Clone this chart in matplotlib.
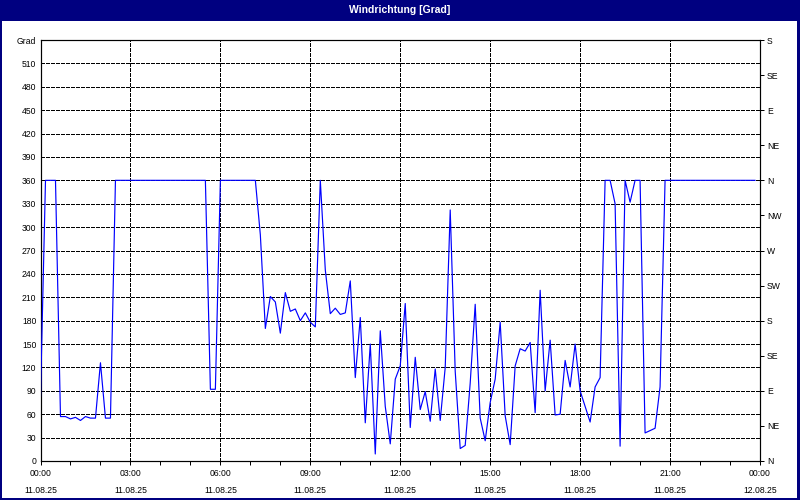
import numpy as np
import matplotlib
matplotlib.use("Agg")
import matplotlib.pyplot as plt
from matplotlib.patches import Rectangle


# Windrichtung 11.08.25, 10-Minuten-Werte (00:00 .. 23:50)
wind_deg = [
    83, 360, 360, 360, 57, 57, 54, 56, 52, 57, 55, 55, 126, 55, 55,
    360, 360, 360, 360, 360, 360, 360, 360, 360, 360, 360, 360, 360, 360,
    360, 360, 360, 360, 360,
    92, 92,
    360, 360, 360, 360, 360, 360, 360, 360,
    290, 170, 211, 204, 164, 216, 192, 195, 180, 190, 178, 172,
    360, 245, 189, 196, 188, 190, 231, 107, 184, 49, 150, 9, 167, 70,
    22, 105, 122, 202, 43, 133, 66, 89, 51, 118, 52, 120, 322, 115,
    16, 20, 100, 201, 55, 26, 75, 105, 178, 58, 21, 122, 144, 141,
    152, 62, 219, 90, 155, 59, 60, 129, 95, 150, 90, 70, 50, 95, 107,
    360, 360, 330, 19, 360, 332, 360, 360, 36, 39, 42, 95,
    360, 360, 360, 360, 360, 360, 360, 360, 360, 360, 360, 360, 360,
    360, 360, 360, 360, 360, 360,
]
step_min = 10

x_tick_hours = [0, 3, 6, 9, 12, 15, 18, 21, 24]
x_tick_labels = [
    "00:00\n11.08.25", "03:00\n11.08.25", "06:00\n11.08.25",
    "09:00\n11.08.25", "12:00\n11.08.25", "15:00\n11.08.25",
    "18:00\n11.08.25", "21:00\n11.08.25", "00:00\n12.08.25",
]

y_ticks = list(range(0, 541, 30))
y_tick_labels = [str(v) for v in y_ticks[:-1]] + ["Grad"]

right_ticks = list(range(0, 541, 45))
right_labels = ["N", "NE", "E", "SE", "S", "SW", "W", "NW",
                "N", "NE", "E", "SE", "S"]

title = "Windrichtung [Grad]"

NAVY = "#000080"
LINE_BLUE = "#0000ff"
PX = 0.72  # 1 Pixel in Punkt bei 100 dpi

plt.rcParams["font.family"] = ["Liberation Sans", "DejaVu Sans"]

hours = np.arange(len(wind_deg)) * step_min / 60.0

fig = plt.figure(figsize=(8, 5), dpi=100)
W, H = 800, 500

# Rahmen + Titelleiste
fig.patches.append(Rectangle((0, 0), 1, 1, transform=fig.transFigure,
                             facecolor=NAVY, edgecolor="none", zorder=-3))
fig.patches.append(Rectangle((2 / W, 2 / H), (W - 3) / W - 2 / W,
                             (H - 21) / H - 2 / H,
                             transform=fig.transFigure,
                             facecolor="white", edgecolor="none", zorder=-2))
fig.text(0.5, 1 - 10 / H, title, color="white", ha="center", va="center",
         fontsize=7.5, fontweight="bold")

ax = fig.add_axes([40.5 / W, 39 / H, (760 - 40.5) / W, (460 - 39) / H])
ax.set_facecolor("white")

ax.plot(hours, wind_deg, color=LINE_BLUE, linewidth=0.85, zorder=3)

ax.set_xlim(0, 24)
ax.set_ylim(0, 540)

ax.set_xticks(x_tick_hours)
ax.set_xticklabels(x_tick_labels, fontsize=6.2, linespacing=2.1)
ax.set_xticks(range(25), minor=True)
ax.tick_params(axis="x", which="both", direction="out", length=3,
               width=PX, pad=3)

ax.set_yticks(y_ticks)
ax.set_yticklabels(y_tick_labels, fontsize=6.2)
ax.tick_params(axis="y", length=0, pad=3)

for v in y_ticks[1:-1]:
    ax.axhline(v, color="black", linewidth=PX, linestyle=(0, (3, 2)),
               antialiased=False, zorder=1)
for h in x_tick_hours[1:-1]:
    ax.axvline(h, color="black", linewidth=PX, linestyle=(0, (3, 2)),
               antialiased=False, zorder=1)

for s in ax.spines.values():
    s.set_linewidth(PX * 1.2)
    s.set_color("black")

ax2 = ax.twinx()
ax2.set_ylim(0, 540)
ax2.set_yticks(right_ticks)
ax2.set_yticklabels(right_labels, fontsize=6.2)
ax2.tick_params(axis="y", direction="out", length=3, width=PX, pad=2)
for s in ax2.spines.values():
    s.set_visible(False)

fig.savefig("out.png", dpi=100)
plt.close(fig)
